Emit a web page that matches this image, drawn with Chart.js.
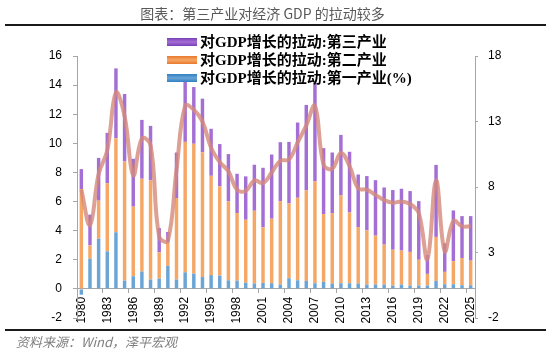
<!DOCTYPE html>
<html><head><meta charset="utf-8">
<script src="https://cdn.jsdelivr.net/npm/chart.js@4"></script>
<style>
html,body{margin:0;padding:0;background:#fff;}
#wrap{position:relative;width:550px;height:355px;overflow:hidden;background:#fff;}
#c{position:absolute;left:0;top:0;}
.title{position:absolute;left:0;width:525px;top:3px;text-align:center;font:14px "Noto Sans CJK SC";color:#595959;white-space:nowrap;}
.rule{position:absolute;left:5px;width:541px;height:2px;background:#1a1a1a;}
.src{position:absolute;left:16px;top:332px;font:italic 13px "Noto Sans CJK SC";color:#7f7f7f;white-space:nowrap;}
</style></head>
<body>
<div id="wrap">
<canvas id="c" width="550" height="355"></canvas>
<div class="title">图表：第三产业对经济 GDP 的拉动较多</div>
<div class="rule" style="top:24px"></div>
<div class="rule" style="top:329px"></div>
<div class="src">资料来源：Wind，泽平宏观</div>
</div>
<script>
const years = ["1980","1981","1982","1983","1984","1985","1986","1987","1988","1989","1990","1991","1992","1993","1994","1995","1996","1997","1998","1999","2000","2001","2002","2003","2004","2005","2006","2007","2008","2009","2010","2011","2012","2013","2014","2015","2016","2017","2018","2019","2020","2021","2022","2023","2024","2025"];
const primary = [-0.4,2.08,3.45,2.58,3.89,0.57,0.87,1.19,0.64,0.71,1.58,0.64,1.14,1.05,0.82,0.95,0.91,0.59,0.57,0.43,0.37,0.41,0.39,0.30,0.73,0.59,0.55,0.39,0.48,0.37,0.39,0.39,0.37,0.30,0.30,0.30,0.23,0.30,0.23,0.23,0.23,0.55,0.32,0.32,0.25,0.25];
const secondary = [6.86,0.91,2.61,4.67,6.46,8.18,4.78,6.38,6.81,1.80,1.62,5.60,8.96,8.92,8.57,6.82,6.13,5.42,4.64,4.32,5.00,3.82,4.43,5.73,5.14,5.67,6.22,6.99,4.66,4.84,6.03,4.86,3.88,3.72,3.36,2.74,2.46,2.33,2.31,1.77,0.80,3.02,0.85,1.58,1.87,1.69];
const tertiary = [1.37,2.11,2.94,3.47,4.80,4.64,3.29,4.04,3.75,1.67,0.71,3.13,4.19,3.90,3.68,3.23,2.91,3.25,2.70,2.98,3.16,4.09,4.41,4.05,4.23,5.17,5.87,6.75,4.53,4.16,4.16,4.17,3.61,3.73,3.81,3.93,4.10,4.25,4.18,4.03,1.30,4.95,1.96,3.49,2.88,3.06];
const gdpGrowth = [7.8,5.1,9.0,10.8,15.2,13.4,8.9,11.7,11.2,4.2,3.9,9.3,14.2,13.9,13.0,11.0,9.9,9.2,7.8,7.7,8.5,8.3,9.1,10.0,10.1,11.4,12.7,14.2,9.7,9.4,10.6,9.6,7.9,7.8,7.4,7.0,6.8,6.9,6.7,6.0,2.5,8.5,3.1,5.4,5.0,5.0];
const leftTicks = [-2,0,2,4,6,8,10,12,14,16];
const rightTicks = [-2,3,8,13,18];
const seriesLabels = ["对GDP增长的拉动:第一产业(%)","对GDP增长的拉动:第二产业","对GDP增长的拉动:第三产业"];

const C_BLUE = '#6aa5d6', C_ORANGE = '#f6a766', C_PURPLE = '#a46fd4';
const axisColor = '#a6a6a6';
const tickFont = {family: '"Liberation Sans", "DejaVu Sans", sans-serif', size: 12};

const legendPlugin = {
  id: 'customLegend',
  afterDraw(chart) {
    const ctx = chart.ctx;
    const order = [2,1,0];
    const rowsY = [42, 60, 78];
    const dark = ['#7b3fb8', '#e8782a', '#2f7fc4'];
    ctx.save();
    order.forEach((di, k) => {
      const ds = chart.data.datasets[di];
      const y = rowsY[k];
      const g = ctx.createLinearGradient(0, y - 4, 0, y + 4);
      g.addColorStop(0, dark[k]);
      g.addColorStop(0.5, ds.backgroundColor);
      g.addColorStop(1, dark[k]);
      ctx.fillStyle = g;
      ctx.fillRect(167, y - 4, 30, 8);
      ctx.fillStyle = '#000';
      ctx.font = 'bold 15px "Liberation Serif", "Noto Sans CJK SC", serif';
      ctx.textBaseline = 'middle';
      ctx.textAlign = 'left';
      ctx.fillText(ds.label, 200, y + 1);
    });
    ctx.restore();
  }
};

new Chart(document.getElementById('c'), {
  type: 'bar',
  data: {
    labels: years,
    datasets: [
      {label: seriesLabels[0], data: primary, backgroundColor: C_BLUE, yAxisID: 'y', order: 1, barPercentage: 0.4, categoryPercentage: 1},
      {label: seriesLabels[1], data: secondary, backgroundColor: C_ORANGE, yAxisID: 'y', order: 1, barPercentage: 0.4, categoryPercentage: 1},
      {label: seriesLabels[2], data: tertiary, backgroundColor: C_PURPLE, yAxisID: 'y', order: 1, barPercentage: 0.4, categoryPercentage: 1},
      {type: 'line', label: 'GDP', data: gdpGrowth, yAxisID: 'y2', order: 0, borderColor: 'rgba(212,136,122,0.8)', borderWidth: 4, tension: 0.4, pointRadius: 0, fill: false}
    ]
  },
  options: {
    responsive: false,
    animation: false,
    devicePixelRatio: 1,
    layout: {padding: {top: 56, bottom: 37, left: 0, right: 0}},
    plugins: {legend: {display: false}, tooltip: {enabled: false}, title: {display: false}},
    scales: {
      x: {
        type: 'category',
        stacked: true,
        offset: true,
        position: {y: 0},
        afterFit(s) { s.height = 0; },
        grid: {
          offset: true, drawOnChartArea: false, drawTicks: true, tickLength: 4,
          color: (c) => (c.index % 3 === 0 ? axisColor : 'rgba(0,0,0,0)')
        },
        border: {display: true, color: axisColor, width: 1},
        ticks: {
          autoSkip: false, maxRotation: 90, minRotation: 90, padding: 4,
          font: tickFont, color: '#000',
          callback: (v, i) => (i % 3 === 0 ? years[i] : '')
        }
      },
      y: {
        stacked: true,
        position: 'left',
        min: -2, max: 16,
        afterFit(s) { s.width = 77; },
        afterBuildTicks(s) { s.ticks = leftTicks.map(v => ({value: v})); },
        grid: {drawOnChartArea: false, drawTicks: true, tickLength: 4, color: axisColor},
        border: {display: true, color: axisColor},
        ticks: {font: tickFont, color: '#000', padding: 11}
      },
      y2: {
        position: 'right',
        min: -2, max: 18,
        afterFit(s) { s.width = 75; },
        afterBuildTicks(s) { s.ticks = rightTicks.map(v => ({value: v})); },
        grid: {drawOnChartArea: false, drawTicks: true, tickLength: 3, color: axisColor},
        border: {display: true, color: axisColor},
        ticks: {font: tickFont, color: '#000', padding: 10}
      }
    }
  },
  plugins: [legendPlugin]
});
</script>
</body></html>
